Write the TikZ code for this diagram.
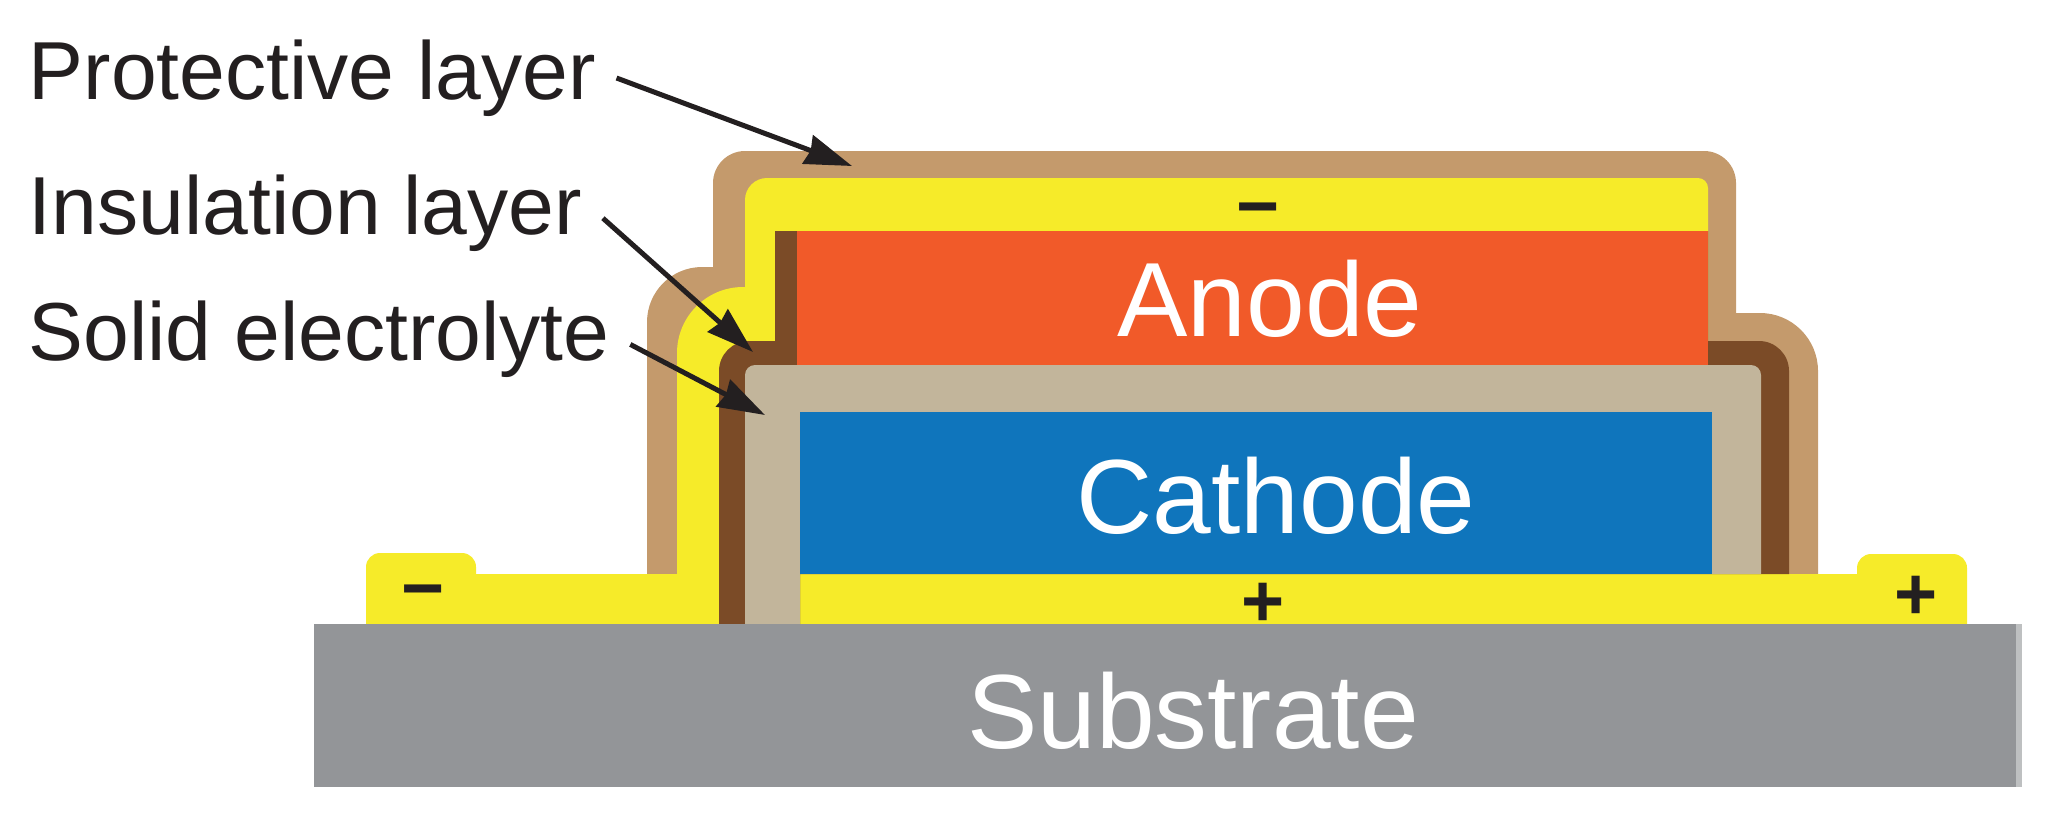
\documentclass[tikz,border=0pt]{standalone}
\usepackage{fontspec}
\setmainfont{Liberation Sans}
\usetikzlibrary{arrows.meta}
\definecolor{protectivetan}{HTML}{C49A6C}
\definecolor{contactyellow}{HTML}{F6EB29}
\definecolor{insulationbrown}{HTML}{7B4B27}
\definecolor{electrolytetan}{HTML}{C2B59B}
\definecolor{anodeorange}{HTML}{F15A29}
\definecolor{cathodeblue}{HTML}{0F75BC}
\definecolor{substrategray}{HTML}{939598}
\definecolor{inkblack}{HTML}{231F20}
\tikzset{
  layerlabel/.style={font=\fontsize{23.4}{28}\selectfont, text=inkblack, inner sep=0.2cm},
  bigword/.style={font=\fontsize{30}{36}\selectfont, text=white, inner sep=0pt},
  polarity/.style={font=\fontsize{21}{25}\selectfont\bfseries, text=inkblack, inner sep=0pt},
  pointer/.style={-{Stealth[length=0.47cm,width=0.3cm,inset=0.03cm]}, line width=0.05cm, inkblack},
}
\begin{document}
\begin{tikzpicture}[x=0.01cm, y=-0.01cm]
  \useasboundingbox (0,0) rectangle (2058,833);
  % 保護層
  \fill[protectivetan] (647,574) [rounded corners=0.55cm] -- (647,267) [sharp corners] -- (713,267)
    [rounded corners=0.32cm] -- (713,151) -- (1736,151) [sharp corners] -- (1736,313)
    [rounded corners=0.58cm] -- (1818,313) [sharp corners] -- (1818,574) -- cycle;
  % 集電層
  \fill[contactyellow] (366,624) [rounded corners=0.14cm] -- (366,553) -- (476,553) [sharp corners]
    -- (476,574) -- (677,574) [rounded corners=0.66cm] -- (677,287) [sharp corners] -- (745,287)
    [rounded corners=0.22cm] -- (745,178) [rounded corners=0.1cm] -- (1708,178) [sharp corners] -- (1708,574) -- (1857,574)
    [rounded corners=0.14cm] -- (1857,554) -- (1967,554) [sharp corners] -- (1967,624) -- cycle;
  % 絶縁層
  \fill[insulationbrown] (719,624) [rounded corners=0.3cm] -- (719,341) [sharp corners] -- (775,341)
    -- (775,231) -- (1708,231) -- (1708,341) [rounded corners=0.3cm] -- (1789,341) [sharp corners]
    -- (1789,574) -- (800,574) -- (800,624) -- cycle;
  % 固体電解質
  \fill[electrolytetan] (745,624) [rounded corners=0.1cm] -- (745,365) -- (1761,365) [sharp corners]
    -- (1761,574) -- (800,574) -- (800,624) -- cycle;
  \fill[anodeorange] (797,231) rectangle (1708,365);
  \fill[cathodeblue] (800,412) rectangle (1712,574);
  \fill[substrategray] (314,624) rectangle (2016,787);
  \fill[substrategray!60] (2016,624) rectangle (2022,787);
  \node[bigword] (anode) at (1270,299) {Anode};
  \node[bigword] (cathode) at (1276,496) {Cathode};
  \node[bigword] (substrate) at (1193,711) {Substrate};
  \node[polarity] (minustop) at (1258,217) {−};
  \node[polarity] (minusleft) at (423,599) {−};
  \node[polarity] (plusmid) at (1263,605) {+};
  \node[polarity] (plusright) at (1916,598) {+};
  % ラベルと矢印
  \node[layerlabel, anchor=west] (protective) at (8,78) {Protective layer};
  \node[layerlabel, anchor=west] (insulation) at (8,213) {Insulation layer};
  \node[layerlabel, anchor=west] (electrolyte) at (8,339) {Solid electrolyte};
  \coordinate (protectivetip) at (852,166);
  \coordinate (insulationtip) at (753,352);
  \coordinate (electrolytetip) at (765,415);
  \draw[pointer] (protective.-0.5) -- (protectivetip);
  \draw[pointer] (insulation.-1.5) -- (insulationtip);
  \draw[pointer] (electrolyte.-1) -- (electrolytetip);
\end{tikzpicture}
\end{document}
